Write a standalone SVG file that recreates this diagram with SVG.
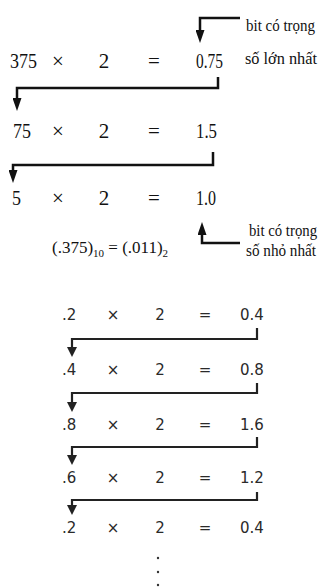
<svg xmlns="http://www.w3.org/2000/svg" width="328" height="587" viewBox="0 0 328 587">
<style>
.s{font-family:"Liberation Serif","Times New Roman",serif;fill:#111}
.n{font-size:21px}
.l{font-size:16px}
.b{font-family:"DejaVu Sans","Noto Sans",sans-serif;font-size:15px;fill:#2a2a2a}
.c{fill:none;stroke:#111;stroke-width:2.5}
.d{fill:none;stroke:#222;stroke-width:2.2}
.m{text-anchor:middle}
</style>
<defs>
<marker id="ah" markerUnits="userSpaceOnUse" viewBox="0 0 13 9" refX="1" refY="4.5" markerWidth="13" markerHeight="9" orient="auto"><path d="M0,0 L13,4.5 L0,9 z" fill="#111"/></marker>
<marker id="ah2" markerUnits="userSpaceOnUse" viewBox="0 0 10 10" refX="1" refY="5" markerWidth="10" markerHeight="10" orient="auto"><path d="M0,0 L10,5 L0,10 z" fill="#222"/></marker>
</defs>
<g id="connectors">
<path class="c" d="M240,18 H200 V31" marker-end="url(#ah)"/>
<path class="c" d="M218,77 V88 H17 V99" marker-end="url(#ah)"/>
<path class="c" d="M213,152 V165 H13 V171" marker-end="url(#ah)"/>
<path class="c" d="M240,243 H202 V234" marker-end="url(#ah)"/>
<path class="d" d="M257,328 V339 H72 V348" marker-end="url(#ah2)"/>
<path class="d" d="M257,383 V393 H72 V403" marker-end="url(#ah2)"/>
<path class="d" d="M257,437 V447 H72 V456" marker-end="url(#ah2)"/>
<path class="d" d="M257,492 V500 H72 V506" marker-end="url(#ah2)"/>
</g>
<g id="row1" class="s n">
<text x="10" y="68" textLength="27" lengthAdjust="spacingAndGlyphs">375</text><text x="58" y="68" class="m">×</text><text x="104" y="68" class="m">2</text><text x="154" y="68" class="m">=</text><text x="196" y="68" textLength="27" lengthAdjust="spacingAndGlyphs">0.75</text>
</g>
<g id="row2" class="s n">
<text x="13" y="138" textLength="18" lengthAdjust="spacingAndGlyphs">75</text><text x="58" y="138" class="m">×</text><text x="104" y="138" class="m">2</text><text x="154" y="138" class="m">=</text><text x="196" y="138" textLength="21" lengthAdjust="spacingAndGlyphs">1.5</text>
</g>
<g id="row3" class="s n">
<text x="12" y="205" textLength="9" lengthAdjust="spacingAndGlyphs">5</text><text x="58" y="205" class="m">×</text><text x="104" y="205" class="m">2</text><text x="154" y="205" class="m">=</text><text x="196" y="205" textLength="20" lengthAdjust="spacingAndGlyphs">1.0</text>
</g>
<g id="label-msb" class="s l">
<text x="246" y="31" textLength="69" lengthAdjust="spacingAndGlyphs">bit có trọng</text>
<text x="245" y="64" textLength="72" lengthAdjust="spacingAndGlyphs">số  lớn nhất</text>
</g>
<g id="label-lsb" class="s l">
<text x="249" y="236" textLength="68" lengthAdjust="spacingAndGlyphs">bit có trọng</text>
<text x="246" y="256" textLength="70" lengthAdjust="spacingAndGlyphs">số  nhỏ nhất</text>
</g>
<g id="result" class="s">
<text x="52" y="253" font-size="17">(.375)<tspan font-size="11" dy="4">10</tspan><tspan dy="-4"> = (.011)</tspan><tspan font-size="11" dy="4">2</tspan></text>
</g>
<g id="rowA" class="b">
<text x="62" y="320">.2</text><text x="113" y="320" class="m">×</text><text x="160" y="320" class="m">2</text><text x="205" y="320" class="m">=</text><text x="240" y="320">0.4</text>
</g>
<g id="rowB" class="b">
<text x="62" y="375">.4</text><text x="113" y="375" class="m">×</text><text x="160" y="375" class="m">2</text><text x="205" y="375" class="m">=</text><text x="240" y="375">0.8</text>
</g>
<g id="rowC" class="b">
<text x="62" y="430">.8</text><text x="113" y="430" class="m">×</text><text x="160" y="430" class="m">2</text><text x="205" y="430" class="m">=</text><text x="240" y="430">1.6</text>
</g>
<g id="rowD" class="b">
<text x="62" y="483">.6</text><text x="113" y="483" class="m">×</text><text x="160" y="483" class="m">2</text><text x="205" y="483" class="m">=</text><text x="240" y="483">1.2</text>
</g>
<g id="rowE" class="b">
<text x="62" y="533">.2</text><text x="113" y="533" class="m">×</text><text x="160" y="533" class="m">2</text><text x="205" y="533" class="m">=</text><text x="240" y="533">0.4</text>
</g>
<g id="dots" fill="#333">
<circle cx="158" cy="558" r="1.2"/><circle cx="158" cy="572" r="1.2"/><circle cx="158" cy="585" r="1.2"/>
</g>
</svg>
